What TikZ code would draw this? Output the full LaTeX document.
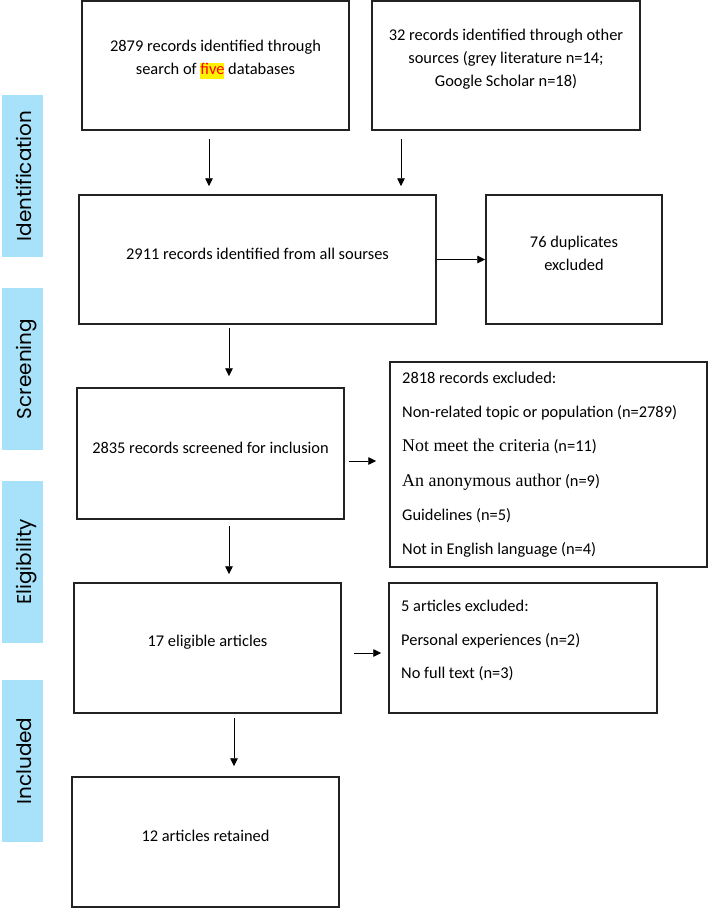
\documentclass[tikz,border=0pt]{standalone}
\usepackage{fontspec}
\setmainfont{Carlito}
\newfontfamily\timesfont{Liberation Serif}
\newfontfamily\phasefont{Poppins}
\definecolor{PhaseBlue}{HTML}{A8E2FA}
\definecolor{BoxLine}{HTML}{222222}
\usetikzlibrary{arrows.meta}
\newcommand{\hlfive}[1]{{\setlength{\fboxsep}{0pt}\colorbox{yellow}{\rule[-5pt]{0pt}{16pt}\textcolor{red}{#1}}}}

\begin{document}
\begin{tikzpicture}[x=1pt,y=-1pt,>={Triangle[length=8pt,width=7.5pt]},
  flowbox/.style={draw=BoxLine,line width=1.5pt,inner sep=0pt},
  boxtext/.style={font=\fontsize{16.4}{23}\selectfont,align=center,inner sep=0pt},
  listtext/.style={font=\fontsize{16.4}{#1}\selectfont,align=left,inner sep=0pt,anchor=north west},
  phase/.style={fill=PhaseBlue,rotate=90,minimum width=162pt,minimum height=41pt,inner sep=0pt,
    text height=22pt,text depth=4pt,font=\phasefont\fontsize{20}{24}\selectfont},
  flow/.style={->,line width=0.9pt}]
  \useasboundingbox (0,0) rectangle (709,908);

  \node[phase] (ident) at (22,176) {Identification};
  \node[phase] (screen) at (22,369) {Screening};
  \node[phase] (elig) at (22,562) {Eligibility};
  \node[phase] (incl) at (22,761) {Included};

  \node[flowbox,minimum width=267pt,minimum height=129pt] (db) at (215.5,65.5) {};
  \node[flowbox,minimum width=268pt,minimum height=129pt] (other) at (506,65.5) {};
  \node[flowbox,minimum width=357pt,minimum height=129pt] (all) at (257.5,259.5) {};
  \node[flowbox,minimum width=176pt,minimum height=129pt] (dup) at (574,259.5) {};
  \node[flowbox,minimum width=267pt,minimum height=131pt] (screened) at (210.5,453.5) {};
  \node[flowbox,minimum width=317pt,minimum height=205pt] (excl) at (548.5,464.5) {};
  \node[flowbox,minimum width=267pt,minimum height=130pt] (eligible) at (207.5,648) {};
  \node[flowbox,minimum width=268pt,minimum height=130pt] (artexcl) at (523,648) {};
  \node[flowbox,minimum width=267pt,minimum height=130pt] (retained) at (205.5,842) {};

  \node[boxtext] (dbtext) at ([yshift=6pt]db.center) {2879 records identified through\\search of \hlfive{five} databases};
  \node[boxtext] (othertext) at ([yshift=6pt]other.center) {32 records identified through other\\sources (grey literature n=14;\\Google Scholar n=18)};
  \node[boxtext] (alltext) at ([yshift=6pt]all.center) {2911 records identified from all sourses};
  \node[boxtext] (duptext) at ([yshift=6pt]dup.center) {76 duplicates\\excluded};
  \node[boxtext] (screenedtext) at ([yshift=6pt]screened.center) {2835 records screened for inclusion};
  \node[listtext=34.2] (excltext) at (402,372) {2818 records excluded:\\
    Non-related topic or population (n=2789)\\
    {\timesfont\fontsize{17.9}{34.2}\selectfont Not meet the criteria} (n=11)\\
    {\timesfont\fontsize{17.9}{34.2}\selectfont An anonymous author} (n=9)\\
    Guidelines (n=5)\\
    Not in English language (n=4)};
  \node[boxtext] (eligibletext) at ([yshift=6pt]eligible.center) {17 eligible articles};
  \node[listtext=33.5] (artexcltext) at (401,600) {5 articles excluded:\\
    Personal experiences (n=2)\\
    No full text (n=3)};
  \node[boxtext] (retainedtext) at ([yshift=6pt]retained.center) {12 articles retained};

  \draw[flow,shorten <=8pt,shorten >=8pt] (db.south -| 209,0) -- (all.north -| 209,0);
  \draw[flow,shorten <=8pt,shorten >=8pt] (other.south -| 401,0) -- (all.north -| 401,0);
  \draw[flow] (all.east) -- (dup.west);
  \draw[flow,shorten <=3pt,shorten >=11pt] (all.south -| 229,0) -- (screened.north -| 229,0);
  \draw[flow,shorten <=4pt,shorten >=13pt] (screened.east |- 0,461) -- (excl.west |- 0,461);
  \draw[flow,shorten <=6pt,shorten >=8pt] (screened.south -| 229,0) -- (eligible.north -| 229,0);
  \draw[flow,shorten <=12pt,shorten >=7pt] (eligible.east |- 0,653) -- (artexcl.west |- 0,653);
  \draw[flow,shorten <=4pt,shorten >=10pt] (eligible.south -| 234,0) -- (retained.north -| 234,0);
\end{tikzpicture}
\end{document}
